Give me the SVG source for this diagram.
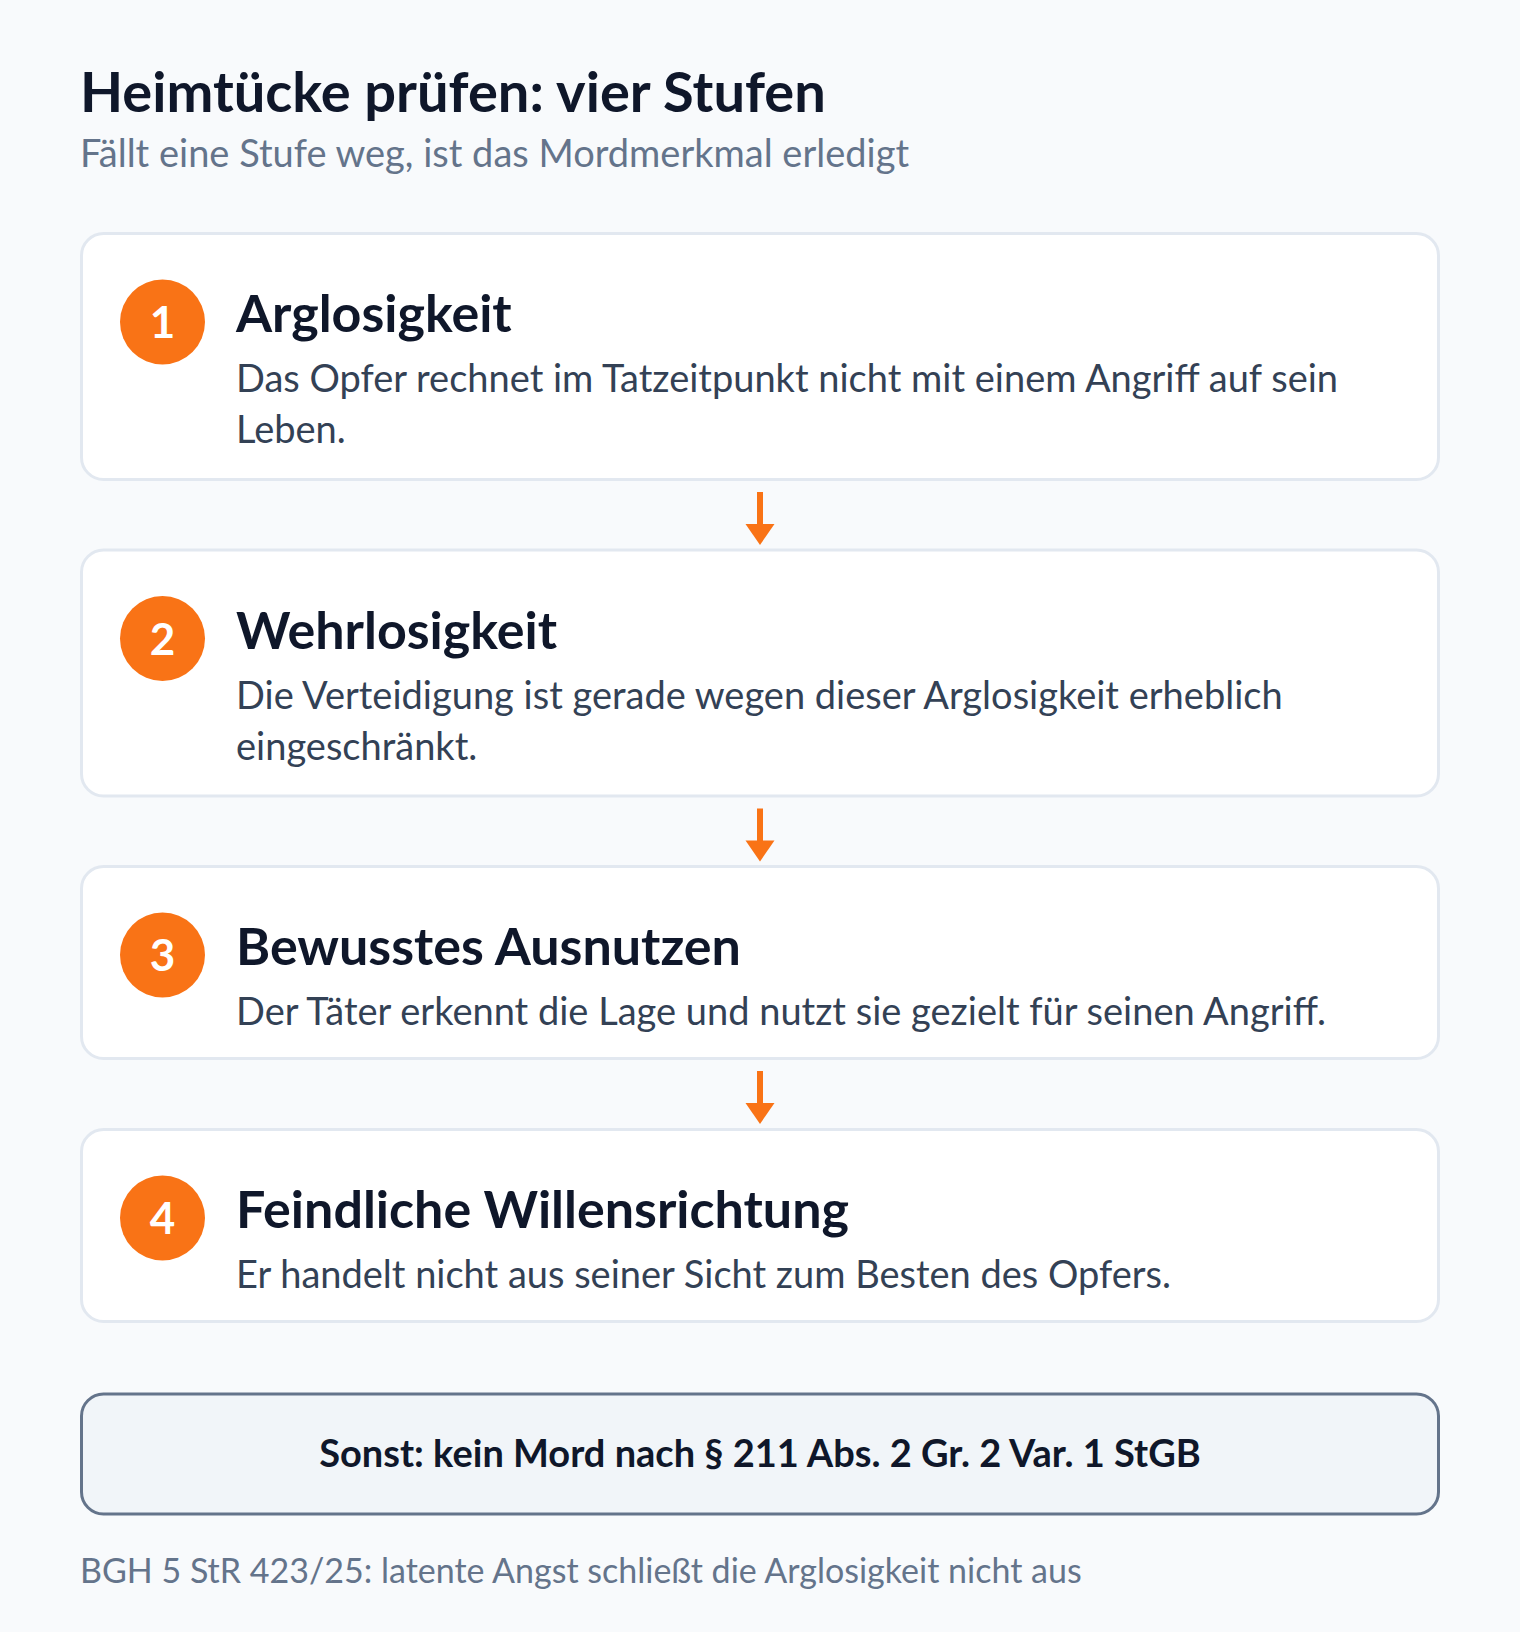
<svg xmlns="http://www.w3.org/2000/svg" width="1520" height="1632" viewBox="0 0 1520 1632">
<defs>
<style>
text{font-family:Lato,"Noto Sans","Liberation Sans",sans-serif}
.h1{font-size:56px;font-weight:700;fill:#0f172a}
.sub{font-size:38px;fill:#64748b}
.card{fill:#ffffff;stroke:#e2e8f0;stroke-width:3}
.num-bg{fill:#f97316}
.num{font-size:44px;font-weight:700;fill:#ffffff;text-anchor:middle}
.ttl{font-size:52px;font-weight:700;fill:#0f172a}
.desc{font-size:38px;fill:#334155}
.conn{stroke:#f97316;stroke-width:6;fill:none}
.head{fill:#f97316}
.sum{fill:#f1f5f9;stroke:#64748b;stroke-width:3}
.sumt{font-size:38px;font-weight:700;fill:#0f172a;text-anchor:middle}
.foot{font-size:34px;fill:#64748b}
</style>
</defs>
<rect x="0" y="0" width="1520" height="1632" fill="#f8fafc"/>
<g id="header">
<text class="h1" x="80" y="112">Heimtücke prüfen: vier Stufen</text>
<text class="sub" x="80" y="167">Fällt eine Stufe weg, ist das Mordmerkmal erledigt</text>
</g>
<g id="connectors">
<line class="conn" x1="760" y1="492" x2="760" y2="526"/>
<polygon class="head" points="745.5,524 774.5,524 760,545"/>
<line class="conn" x1="760" y1="808.5" x2="760" y2="842.5"/>
<polygon class="head" points="745.5,840.5 774.5,840.5 760,861.5"/>
<line class="conn" x1="760" y1="1071" x2="760" y2="1105"/>
<polygon class="head" points="745.5,1103 774.5,1103 760,1124"/>
</g>
<g id="step1">
<rect class="card" x="81.5" y="233.5" width="1357" height="246" rx="22"/>
<circle class="num-bg" cx="162.5" cy="322" r="42.5"/>
<text class="num" x="162.5" y="338">1</text>
<text class="ttl" x="236" y="332">Arglosigkeit</text>
<text class="desc" x="236" y="392">Das Opfer rechnet im Tatzeitpunkt nicht mit einem Angriff auf sein</text>
<text class="desc" x="236" y="443">Leben.</text>
</g>
<g id="step2">
<rect class="card" x="81.5" y="550" width="1357" height="246" rx="22"/>
<circle class="num-bg" cx="162.5" cy="638.5" r="42.5"/>
<text class="num" x="162.5" y="654.5">2</text>
<text class="ttl" x="236" y="648.5">Wehrlosigkeit</text>
<text class="desc" x="236" y="708.5">Die Verteidigung ist gerade wegen dieser Arglosigkeit erheblich</text>
<text class="desc" x="236" y="759.5">eingeschränkt.</text>
</g>
<g id="step3">
<rect class="card" x="81.5" y="866.5" width="1357" height="192" rx="22"/>
<circle class="num-bg" cx="162.5" cy="955" r="42.5"/>
<text class="num" x="162.5" y="971">3</text>
<text class="ttl" x="236" y="965">Bewusstes Ausnutzen</text>
<text class="desc" x="236" y="1025">Der Täter erkennt die Lage und nutzt sie gezielt für seinen Angriff.</text>
</g>
<g id="step4">
<rect class="card" x="81.5" y="1129.5" width="1357" height="192" rx="22"/>
<circle class="num-bg" cx="162.5" cy="1218" r="42.5"/>
<text class="num" x="162.5" y="1234">4</text>
<text class="ttl" x="236" y="1228">Feindliche Willensrichtung</text>
<text class="desc" x="236" y="1288">Er handelt nicht aus seiner Sicht zum Besten des Opfers.</text>
</g>
<g id="result">
<rect class="sum" x="81.5" y="1394" width="1357" height="120" rx="22"/>
<text class="sumt" x="760" y="1467">Sonst: kein Mord nach § 211 Abs. 2 Gr. 2 Var. 1 StGB</text>
</g>
<g id="footer">
<text class="foot" x="80" y="1583">BGH 5 StR 423/25: latente Angst schließt die Arglosigkeit nicht aus</text>
</g>
</svg>
